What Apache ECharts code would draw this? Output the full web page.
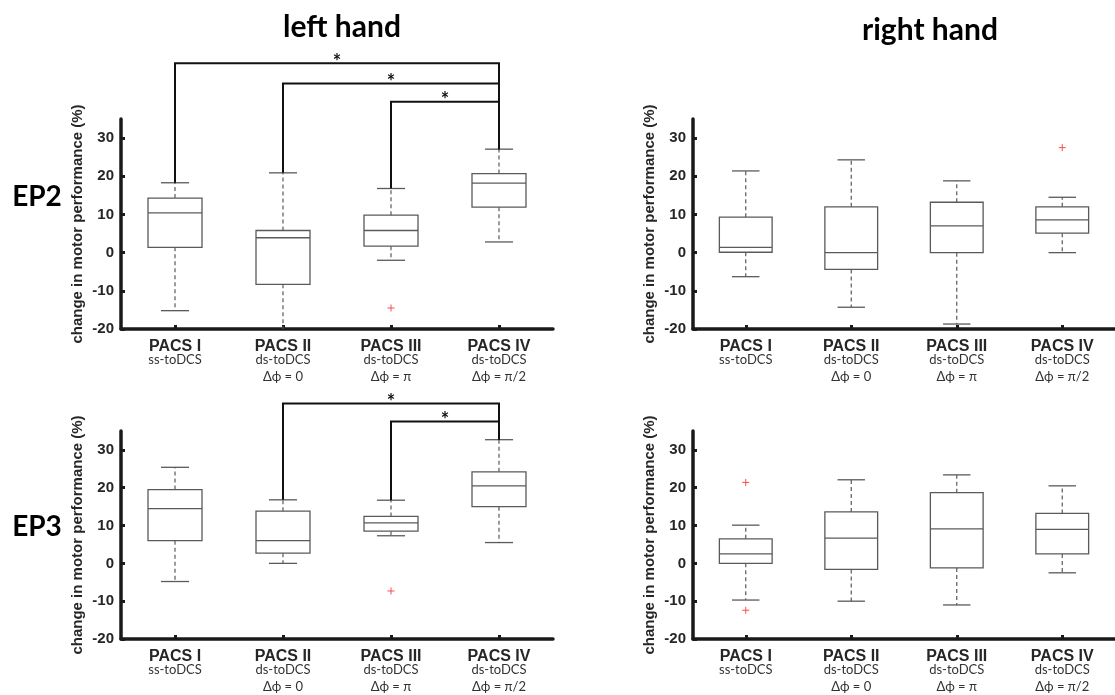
<!DOCTYPE html>
<html>
<head>
<meta charset="utf-8">
<script src="https://cdn.jsdelivr.net/npm/echarts@6/dist/echarts.min.js"></script>
<style>
  html, body { margin: 0; padding: 0; background: #fff; }
  #chart { width: 1115px; height: 695px; }
</style>
</head>
<body>
<div id="chart"></div>
<script>
// Stimulation conditions along the x axis
const categories = ['PACS I', 'PACS II', 'PACS III', 'PACS IV'];
const montages = ['ss-toDCS', 'ds-toDCS', 'ds-toDCS', 'ds-toDCS'];
const phaseShifts = ['', 'Δϕ = 0', 'Δϕ = π', 'Δϕ = π/2'];
const yTicks = [-20, -10, 0, 10, 20, 30];
const yName = 'change in motor performance (%)';
const handTitles = ['left hand', 'right hand'];
const epochTitles = ['EP2', 'EP3'];

// Box summaries per condition: [lower whisker, Q1, median, Q3, upper whisker]
const ep2Left = [
  [-15.2, 1.4, 10.4, 14.3, 18.3],
  [-21.0, -8.3, 3.9, 5.8, 20.9],
  [-2.0, 1.7, 5.8, 9.8, 16.8],
  [2.8, 11.9, 18.2, 20.7, 27.1]
];
const ep2Right = [
  [-6.3, 0.1, 1.4, 9.3, 21.4],
  [-14.3, -4.4, 0.0, 12.0, 24.3],
  [-18.7, 0.0, 7.0, 13.2, 18.8],
  [0.0, 5.1, 8.6, 12.0, 14.5]
];
const ep3Left = [
  [-4.8, 6.0, 14.5, 19.5, 25.4],
  [0.0, 2.7, 6.0, 13.8, 16.8],
  [7.3, 8.5, 10.7, 12.4, 16.7],
  [5.5, 15.0, 20.5, 24.2, 32.7]
];
const ep3Right = [
  [-9.7, 0.0, 2.5, 6.5, 10.1],
  [-10.0, -1.6, 6.7, 13.6, 22.1],
  [-11.0, -1.2, 9.1, 18.7, 23.4],
  [-2.5, 2.5, 9.0, 13.2, 20.5]
];

// Outliers: [condition index, value]
const ep2LeftOutliers = [[2, -14.5]];
const ep2RightOutliers = [[3, 27.5]];
const ep3LeftOutliers = [[2, -7.3]];
const ep3RightOutliers = [[0, 21.4], [0, -12.4]];

// Significant pairwise comparisons: [from index, to index, bracket height]
const ep2LeftSignif = [[0, 3, 49.6], [1, 3, 44.3], [2, 3, 39.5]];
const ep3LeftSignif = [[1, 3, 42.3], [2, 3, 37.5]];

const axisColor = '#1a1a1a';
const boxColor = '#5a5a5a';
const textColor = '#262626';

const chart = echarts.init(document.getElementById('chart'), null, { renderer: 'canvas' });

const grids = [
  { left: 121, top: 119, width: 432, height: 210 },
  { left: 693, top: 119, width: 425, height: 210 },
  { left: 121, top: 431, width: 432, height: 208 },
  { left: 693, top: 431, width: 425, height: 208 }
];

function makeXAxis(i) {
  return {
    gridIndex: i,
    type: 'category',
    data: categories,
    boundaryGap: true,
    axisLine: { show: true, onZero: false, lineStyle: { color: axisColor, width: 3.5 } },
    axisTick: { show: true, inside: true, alignWithLabel: true, length: 4, lineStyle: { color: axisColor, width: 3 } },
    splitLine: { show: false },
    axisLabel: {
      interval: 0,
      margin: 10,
      formatter: (v, idx) => {
        let s = '{b|' + v + '}\n{s|' + montages[idx] + '}';
        if (phaseShifts[idx]) s += '\n{p|' + phaseShifts[idx] + '}';
        return s;
      },
      rich: {
        b: { fontFamily: 'Liberation Sans', fontWeight: 'bold', fontSize: 16, lineHeight: 15, color: textColor },
        s: { fontFamily: 'Lato', fontSize: 13, lineHeight: 12, color: '#333' },
        p: { fontFamily: 'Lato', fontSize: 13, lineHeight: 21, color: '#333' }
      }
    }
  };
}

function makeYAxis(i) {
  return {
    gridIndex: i,
    type: 'value',
    min: -20,
    max: 35,
    axisLine: { show: true, onZero: false, lineStyle: { color: axisColor, width: 3.5 } },
    axisTick: { show: true, inside: true, length: 4, customValues: yTicks, lineStyle: { color: axisColor, width: 3 } },
    axisLabel: {
      customValues: yTicks,
      fontFamily: 'Liberation Sans', fontWeight: 'bold', fontSize: 15, color: textColor, margin: 7
    },
    splitLine: { show: false },
    name: yName,
    nameLocation: 'middle',
    nameGap: 36,
    nameTextStyle: { fontFamily: 'Liberation Sans', fontWeight: 'bold', fontSize: 15, color: textColor }
  };
}

// Box, median, dashed whiskers and solid caps
function renderBox(params, api) {
  const c = api.value(0);
  const band = api.size([1, 0])[0];
  const hw = band * 0.25;
  const cw = band * 0.13;
  const x = api.coord([c, 0])[0];
  const yLow = api.coord([c, api.value(1)])[1];
  const yQ1 = api.coord([c, api.value(2)])[1];
  const yMed = api.coord([c, api.value(3)])[1];
  const yQ3 = api.coord([c, api.value(4)])[1];
  const yHigh = api.coord([c, api.value(5)])[1];
  const solid = { stroke: boxColor, lineWidth: 1.3, fill: 'none' };
  const dashed = { stroke: boxColor, lineWidth: 1.2, lineDash: [4, 3], fill: 'none' };
  return {
    type: 'group',
    children: [
      { type: 'line', shape: { x1: x, y1: yQ3, x2: x, y2: yHigh }, style: dashed },
      { type: 'line', shape: { x1: x, y1: yQ1, x2: x, y2: yLow }, style: dashed },
      { type: 'line', shape: { x1: x - cw, y1: yHigh, x2: x + cw, y2: yHigh }, style: solid },
      { type: 'line', shape: { x1: x - cw, y1: yLow, x2: x + cw, y2: yLow }, style: solid },
      { type: 'rect', shape: { x: x - hw, y: yQ3, width: 2 * hw, height: yQ1 - yQ3 }, style: solid },
      { type: 'line', shape: { x1: x - hw, y1: yMed, x2: x + hw, y2: yMed }, style: solid }
    ]
  };
}

// Red plus markers for outliers
function renderOutlier(params, api) {
  const p = api.coord([api.value(0), api.value(1)]);
  const r = 3.5;
  const st = { stroke: '#ff4a4a', lineWidth: 1 };
  return {
    type: 'group',
    children: [
      { type: 'line', shape: { x1: p[0] - r, y1: p[1], x2: p[0] + r, y2: p[1] }, style: st },
      { type: 'line', shape: { x1: p[0], y1: p[1] - r, x2: p[0], y2: p[1] + r }, style: st }
    ]
  };
}

// Significance brackets from one whisker top to another, with a star
function renderBracket(params, api) {
  const a = api.value(0), b = api.value(1), lvl = api.value(2);
  const pa = api.coord([a, api.value(3)]);
  const pb = api.coord([b, api.value(4)]);
  const ya = api.coord([a, lvl]);
  const yb = api.coord([b, lvl]);
  return {
    type: 'group',
    children: [
      {
        type: 'polyline',
        shape: { points: [pa, ya, yb, pb] },
        style: { stroke: '#111', lineWidth: 2, fill: 'none' }
      },
      {
        type: 'text',
        x: (ya[0] + yb[0]) / 2,
        y: ya[1] - 1,
        style: { text: '*', font: 'bold 20px Lato', fill: '#111', align: 'center', verticalAlign: 'middle' }
      }
    ]
  };
}

function boxSeries(i, boxes) {
  return {
    type: 'custom', xAxisIndex: i, yAxisIndex: i, clip: true, silent: true,
    renderItem: renderBox,
    encode: { x: 0, y: [1, 2, 3, 4, 5] },
    data: boxes.map((b, k) => [k].concat(b))
  };
}

function outlierSeries(i, pts) {
  return {
    type: 'custom', xAxisIndex: i, yAxisIndex: i, clip: true, silent: true,
    renderItem: renderOutlier,
    encode: { x: 0, y: 1 },
    data: pts
  };
}

function bracketSeries(i, comps, boxes) {
  return {
    type: 'custom', xAxisIndex: i, yAxisIndex: i, clip: false, silent: true, z: 5,
    renderItem: renderBracket,
    encode: { x: [0, 1], y: [2] },
    data: comps.map(c => [c[0], c[1], c[2], boxes[c[0]][4], boxes[c[1]][4]])
  };
}

const option = {
  animation: false,
  backgroundColor: '#fff',
  grid: grids,
  xAxis: [0, 1, 2, 3].map(makeXAxis),
  yAxis: [0, 1, 2, 3].map(makeYAxis),
  graphic: [
    { type: 'text', x: 342, y: 27, style: { text: handTitles[0], font: 'bold 30px Lato', fill: '#000', align: 'center', verticalAlign: 'middle' } },
    { type: 'text', x: 930, y: 30, style: { text: handTitles[1], font: 'bold 30px Lato', fill: '#000', align: 'center', verticalAlign: 'middle' } },
    { type: 'text', x: 37, y: 197, style: { text: epochTitles[0], font: 'bold 28px Lato', fill: '#000', align: 'center', verticalAlign: 'middle' } },
    { type: 'text', x: 37, y: 527, style: { text: epochTitles[1], font: 'bold 28px Lato', fill: '#000', align: 'center', verticalAlign: 'middle' } }
  ],
  series: [
    boxSeries(0, ep2Left), outlierSeries(0, ep2LeftOutliers), bracketSeries(0, ep2LeftSignif, ep2Left),
    boxSeries(1, ep2Right), outlierSeries(1, ep2RightOutliers),
    boxSeries(2, ep3Left), outlierSeries(2, ep3LeftOutliers), bracketSeries(2, ep3LeftSignif, ep3Left),
    boxSeries(3, ep3Right), outlierSeries(3, ep3RightOutliers)
  ]
};

chart.setOption(option);
</script>
</body>
</html>
